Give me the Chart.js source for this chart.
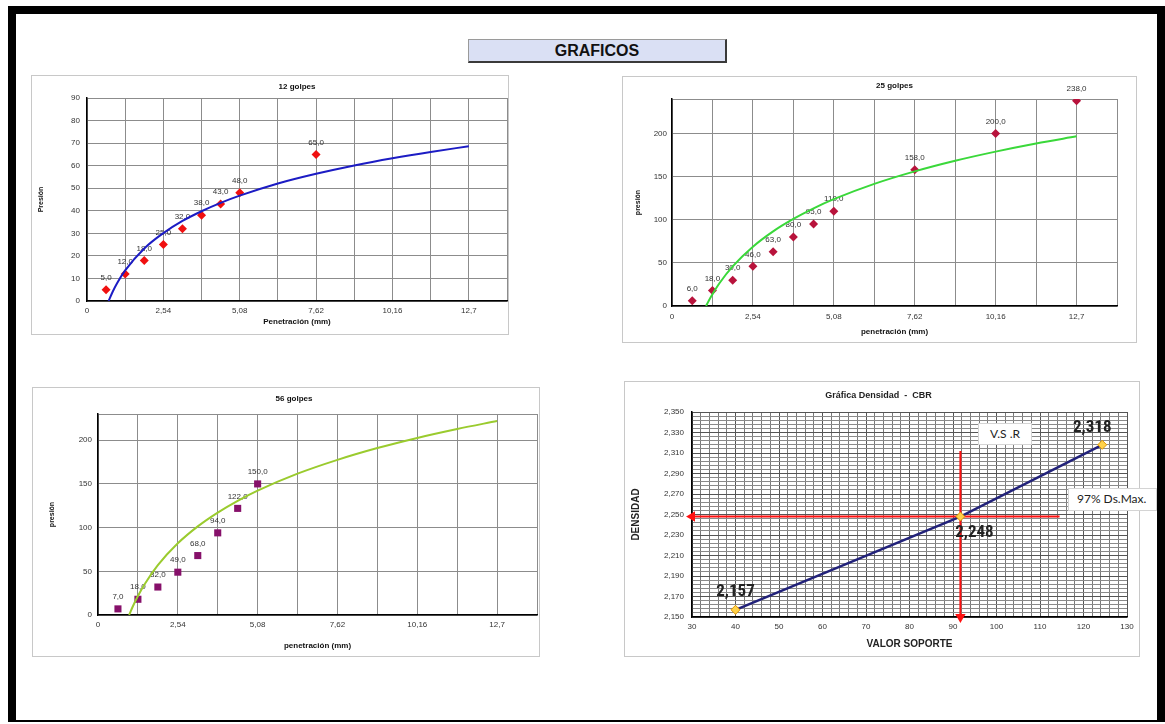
<!DOCTYPE html>
<html>
<head>
<meta charset="utf-8">
<script src="https://cdn.jsdelivr.net/npm/chart.js@4.4.1/dist/chart.umd.min.js"></script>
<style>
  html, body { margin: 0; padding: 0; background: #fff; width: 1165px; height: 724px; overflow: hidden;
    font-family: 'Liberation Sans', Arial, sans-serif; }
  .frame { position: absolute; left: 8px; top: 6px; width: 1141px; height: 706px;
    border-left: 8px solid #000; border-top: 8px solid #000; border-right: 8px solid #000; border-bottom: 2px solid #000; }
  .heading { position: absolute; left: 468px; top: 39px; width: 256px; height: 21px; background: #dae0f4;
    border-top: 1px solid #9a9a9a; border-left: 1px solid #9a9a9a; border-right: 2px solid #3a3a3a; border-bottom: 2px solid #3a3a3a;
    text-align: center; font-weight: bold; font-size: 16px; line-height: 22px; color: #111; }
  .panel { position: absolute; border: 1px solid #c8c8c8; box-sizing: border-box; background: #fff; overflow: visible; }
  .panel canvas { position: absolute; left: 0; top: 0; }
  .note { position: absolute; background: #fff; border: 1px solid #d4d4d4; box-sizing: border-box;
    font-family: Lato, 'Open Sans', sans-serif; font-size: 12px; color: #222; line-height: 20px; }
</style>
</head>
<body>
<div class="frame"></div>
<div class="heading">GRAFICOS</div>

<div class="panel" style="left:31px; top:75px; width:478px; height:260px;"><canvas id="c12" width="480" height="258"></canvas></div>
<div class="panel" style="left:622px; top:76px; width:515px; height:267px;"><canvas id="c25" width="513" height="265"></canvas></div>
<div class="panel" style="left:32px; top:387px; width:508px; height:270px;"><canvas id="c56" width="509" height="268"></canvas></div>
<div class="panel" style="left:624px; top:381px; width:516px; height:276px;"><canvas id="cbr" width="514" height="274"></canvas></div>

<div class="note" style="left:978px; top:423px; width:54px; height:22px; text-align:center;">V.S .R</div>
<div class="note" style="left:1068px; top:488px; width:89px; height:23px; padding-left:8px;">97% Ds.Max.</div>

<script>
// Penetration readings (mm) shared by the three compaction tests
const penetrationMm = [0.635, 1.27, 1.905, 2.54, 3.175, 3.81, 4.445, 5.08, 7.62, 10.16, 12.7];
const penGridTicks = [0, 1.27, 2.54, 3.81, 5.08, 6.35, 7.62, 8.89, 10.16, 11.43, 12.7, 13.97];
const penLabelTicks = [0, 2.54, 5.08, 7.62, 10.16, 12.7];

// Pressure readings per test
const load12 = [5.0, 12.0, 18.0, 25.0, 32.0, 38.0, 43.0, 48.0, 65.0];
const load25 = [6.0, 18.0, 30.0, 46.0, 63.0, 80.0, 95.0, 110.0, 158.0, 200.0, 238.0];
const load56 = [7.0, 18.0, 32.0, 49.0, 68.0, 94.0, 122.0, 150.0];

// Pressure axis ticks
const pressureTicks12 = [0, 10, 20, 30, 40, 50, 60, 70, 80, 90];
const pressureTicks25 = [0, 50, 100, 150, 200];
const pressureTicks56 = [0, 50, 100, 150, 200];

// Logarithmic trend curves
const trend12X = [0.72, 0.85, 1.0, 1.27, 1.905, 2.54, 3.175, 3.81, 4.445, 5.08, 6.35, 7.62, 8.89, 10.16, 11.43, 12.7];
const trend12Y = [0, 4.0, 7.9, 13.6, 23.3, 30.1, 35.5, 39.8, 43.5, 46.7, 52.1, 56.4, 60.1, 63.3, 66.1, 68.6];
const trend25X = [1.07, 1.15, 1.27, 1.5, 1.905, 2.54, 3.175, 3.81, 4.445, 5.08, 6.35, 7.62, 8.89, 10.16, 11.43, 12.7];
const trend25Y = [0, 5.9, 13.7, 27.0, 46.0, 68.8, 86.6, 101.0, 113.3, 123.9, 141.6, 156.1, 168.4, 179.0, 188.4, 196.7];
const trend56X = [0.99, 1.1, 1.27, 1.5, 1.905, 2.54, 3.175, 3.81, 4.445, 5.08, 6.35, 7.62, 8.89, 10.16, 11.43, 12.7];
const trend56Y = [0, 9.2, 21.7, 36.1, 57.0, 82.0, 101.4, 117.2, 130.7, 142.3, 161.7, 177.5, 191.0, 202.6, 212.8, 222.0];

// Density vs CBR (valor soporte)
const cbrValues = [40, 91.7, 124.3];
const densityValues = [2.157, 2.248, 2.318];
const cbrTickLabels = [30, 40, 50, 60, 70, 80, 90, 100, 110, 120, 130];
const densityTickLabels = [2.15, 2.17, 2.19, 2.21, 2.23, 2.25, 2.27, 2.29, 2.31, 2.33, 2.35];
const guideHorizontalCbr = [30, 114.5];
const guideVerticalDensity = [2.312, 2.15];

Chart.defaults.font.family = "'Liberation Sans', Arial, sans-serif";
Chart.defaults.color = '#333';

const comma = s => String(s).replace('.', ',');
const fmtPen = v => comma(+v.toFixed(2));
const fmtLoad = v => comma(v.toFixed(1));

function labelPlugin(datasetIndex, format, dy) {
  return {
    id: 'valueLabels',
    beforeDatasetsDraw(chart) {
      const meta = chart.getDatasetMeta(datasetIndex);
      const ds = chart.data.datasets[datasetIndex];
      const ctx = chart.ctx;
      ctx.save();
      ctx.font = "8px 'Liberation Sans', Arial, sans-serif";
      ctx.fillStyle = '#333';
      ctx.textAlign = 'center';
      ctx.textBaseline = 'middle';
      meta.data.forEach((pt, i) => ctx.fillText(format(ds.data[i].y), pt.x, pt.y + dy));
      ctx.restore();
    }
  };
}

function penetrationChart(id, o) {
  const yGrid = o.yTicks.concat(o.yMax > o.yTicks[o.yTicks.length - 1] ? [o.yMax] : []);
  return new Chart(document.getElementById(id), {
    type: 'scatter',
    data: {
      datasets: [
        {
          data: o.trendX.map((x, i) => ({ x, y: o.trendY[i] })),
          showLine: true, pointRadius: 0, borderColor: o.trendColor, borderWidth: 2,
          cubicInterpolationMode: 'monotone', order: 0
        },
        {
          data: o.loads.map((y, i) => ({ x: penetrationMm[i], y })),
          showLine: false, pointStyle: o.marker, pointRadius: o.markerRadius,
          backgroundColor: o.markerColor, borderColor: o.markerColor, borderWidth: 0, order: 1
        }
      ]
    },
    options: {
      responsive: false, animation: false, events: [],
      layout: { padding: o.pad },
      plugins: {
        legend: { display: false }, tooltip: { enabled: false },
        title: { display: true, text: o.title, fullSize: o.titleFull, color: '#111',
          font: { size: 8, weight: 'bold', lineHeight: '10px' }, padding: o.titlePad }
      },
      scales: {
        x: {
          type: 'linear', min: 0, max: 13.97,
          afterBuildTicks: s => { s.ticks = penGridTicks.map(v => ({ value: v })); },
          afterFit: s => { s.height = o.xH; },
          ticks: { autoSkip: false, maxRotation: 0, padding: o.xTickPad, color: '#333', font: { size: 8 },
            callback: v => penLabelTicks.includes(v) ? fmtPen(v) : '' },
          grid: { color: '#8c8c8c', lineWidth: 1, drawTicks: false },
          border: { color: '#000', width: 1.5 },
          title: { display: true, text: o.xTitle, color: '#111', padding: 0,
            font: { size: 8, weight: 'bold', lineHeight: '9px' } }
        },
        y: {
          type: 'linear', min: 0, max: o.yMax,
          afterBuildTicks: s => { s.ticks = yGrid.map(v => ({ value: v })); },
          afterFit: s => { s.width = o.yW; },
          ticks: { autoSkip: false, padding: o.yTickPad, color: '#333', font: { size: 8 },
            callback: v => o.yTicks.includes(v) ? String(v) : '' },
          grid: { color: '#8c8c8c', lineWidth: 1, drawTicks: false },
          border: { color: '#000', width: 1.5 },
          title: { display: true, text: o.yTitle, color: '#111', padding: 0,
            font: { size: 7, weight: 'bold', lineHeight: '8px' } }
        }
      }
    },
    plugins: [labelPlugin(1, fmtLoad, -12)]
  });
}

penetrationChart('c12', {
  title: '12 golpes', titleFull: false, titlePad: { top: 6, bottom: 6 },
  xTitle: 'Penetración (mm)', yTitle: 'Presión',
  loads: load12, trendX: trend12X, trendY: trend12Y,
  trendColor: '#1c1cc4', marker: 'rectRot', markerRadius: 4.5, markerColor: '#f01010',
  yTicks: pressureTicks12, yMax: 90,
  pad: { left: 5, right: 1, top: 0, bottom: 8 }, xH: 25, yW: 50, xTickPad: 5, yTickPad: 7
});

penetrationChart('c25', {
  title: '25 golpes', titleFull: false, titlePad: { top: 4, bottom: 8 },
  xTitle: 'penetración (mm)', yTitle: 'presión',
  loads: load25, trendX: trend25X, trendY: trend25Y,
  trendColor: '#3ad83a', marker: 'rectRot', markerRadius: 4.5, markerColor: '#b8133c',
  yTicks: pressureTicks25, yMax: 240,
  pad: { left: 11, right: 19, top: 0, bottom: 6 }, xH: 30, yW: 38, xTickPad: 6, yTickPad: 5
});

penetrationChart('c56', {
  title: '56 golpes', titleFull: true, titlePad: { top: 6, bottom: 10 },
  xTitle: 'penetración (mm)', yTitle: 'presión',
  loads: load56, trendX: trend56X, trendY: trend56Y,
  trendColor: '#9acb2e', marker: 'rect', markerRadius: 5, markerColor: '#86106a',
  yTicks: pressureTicks56, yMax: 230,
  pad: { left: 15, right: 2, top: 0, bottom: 6 }, xH: 35, yW: 50, xTickPad: 5, yTickPad: 6
});

// Density - CBR chart
const cbrGrid = [];
for (let v = 30; v <= 130; v += 2) cbrGrid.push(v);
const densGrid = [];
for (let k = 2150; k <= 2350; k += 4) densGrid.push(k / 1000);
const isDensLabel = v => densityTickLabels.some(t => Math.abs(t - v) < 1e-6);

const cbrLabels = {
  id: 'cbrLabels',
  afterDatasetsDraw(chart) {
    const meta = chart.getDatasetMeta(0);
    const offsets = [[0, -18], [14, 16], [-10, -17]];
    const ctx = chart.ctx;
    ctx.save();
    ctx.font = "bold 17px 'Liberation Sans Narrow', 'Roboto Condensed', Lato, sans-serif";
    ctx.fillStyle = '#222';
    ctx.textAlign = 'center';
    ctx.textBaseline = 'middle';
    meta.data.forEach((pt, i) => {
      ctx.fillText(densityValues[i].toFixed(3).replace('.', ','), pt.x + offsets[i][0], pt.y + offsets[i][1]);
    });
    ctx.restore();
  }
};

new Chart(document.getElementById('cbr'), {
  type: 'scatter',
  data: {
    datasets: [
      {
        data: cbrValues.map((x, i) => ({ x, y: densityValues[i] })),
        showLine: true, borderColor: '#22227a', borderWidth: 2.5,
        pointStyle: 'rectRot', pointRadius: 4.5, pointBackgroundColor: '#ffd24a',
        pointBorderColor: '#e09600', pointBorderWidth: 1, order: 0
      },
      {
        data: guideHorizontalCbr.map(x => ({ x, y: densityValues[1] })),
        showLine: true, borderColor: '#ff1010', borderWidth: 2, clip: false,
        pointStyle: 'triangle', pointRadius: [4, 0], pointRotation: -90,
        pointBackgroundColor: '#ff1010', pointBorderColor: '#ff1010', order: 1
      },
      {
        data: guideVerticalDensity.map(y => ({ x: cbrValues[1], y })),
        showLine: true, borderColor: '#ff1010', borderWidth: 2, clip: false,
        pointStyle: 'triangle', pointRadius: [0, 4], pointRotation: 180,
        pointBackgroundColor: '#ff1010', pointBorderColor: '#ff1010', order: 2
      }
    ]
  },
  options: {
    responsive: false, animation: false, events: [],
    layout: { padding: { left: 5, right: 12, top: 0, bottom: 6 } },
    plugins: {
      legend: { display: false }, tooltip: { enabled: false },
      title: { display: true, text: 'Gráfica Densidad  -  CBR', fullSize: true, color: '#222',
        font: { size: 9, lineHeight: '11px' }, padding: { top: 8, bottom: 11 } }
    },
    scales: {
      x: {
        type: 'linear', min: 30, max: 130,
        afterBuildTicks: s => { s.ticks = cbrGrid.map(v => ({ value: v })); },
        afterFit: s => { s.height = 33; },
        ticks: { autoSkip: false, maxRotation: 0, padding: 5, color: '#333', font: { size: 8 },
          callback: v => cbrTickLabels.includes(v) ? String(v) : '' },
        grid: { color: ctx => (ctx.tick && ctx.tick.value % 10 === 0) ? '#555' : '#7a7a7a', lineWidth: 1, drawTicks: false },
        border: { color: '#000', width: 1.5 },
        title: { display: true, text: 'VALOR SOPORTE', color: '#222', padding: 0,
          font: { size: 10, weight: 'bold', lineHeight: '12px' } }
      },
      y: {
        type: 'linear', min: 2.15, max: 2.35,
        afterBuildTicks: s => { s.ticks = densGrid.map(v => ({ value: v })); },
        afterFit: s => { s.width = 62; },
        ticks: { autoSkip: false, padding: 8, color: '#333', font: { size: 8 },
          callback: v => isDensLabel(v) ? v.toFixed(3).replace('.', ',') : '' },
        grid: { color: ctx => (ctx.tick && isDensLabel(ctx.tick.value)) ? '#555' : '#8a8a8a', lineWidth: 1, drawTicks: false },
        border: { color: '#000', width: 1.5 },
        title: { display: true, text: 'DENSIDAD', color: '#222', padding: 0,
          font: { size: 10, weight: 'bold', lineHeight: '12px' } }
      }
    }
  },
  plugins: [cbrLabels]
});
</script>
</body>
</html>
